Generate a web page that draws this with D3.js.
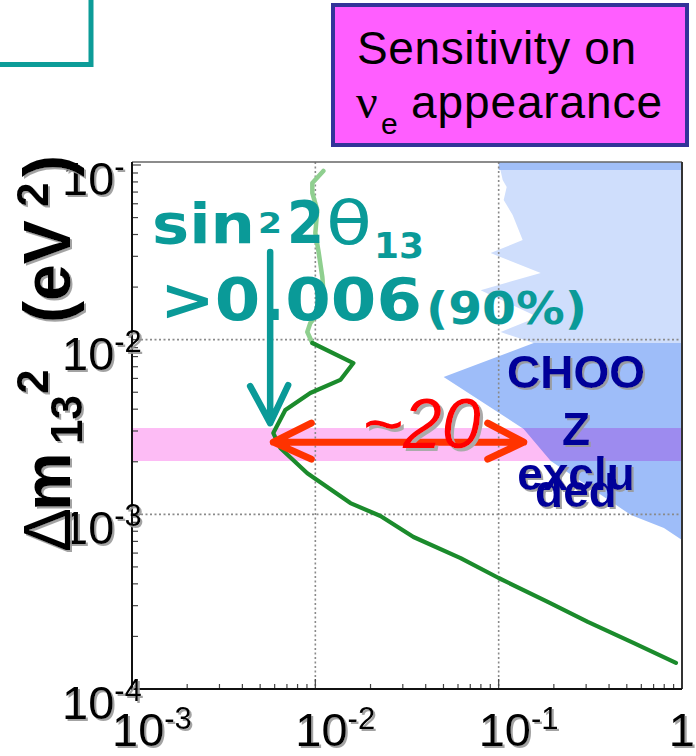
<!DOCTYPE html>
<html>
<head>
<meta charset="utf-8">
<title>Sensitivity on nu_e appearance</title>
<script src="https://d3js.org/d3.v7.min.js"></script>
<style>
  body { margin: 0; background: #fff; }
  svg { display: block; }
  .sans { font-family: "Liberation Sans", Arial, sans-serif; }
</style>
</head>
<body>
<svg id="main-svg" width="696" height="756"></svg>
<script>
// ---- data: x = sin^2 2theta13, y = dm^2 (eV^2) ----
// upper (light green) part of the sensitivity curve
const sensUpperSin = [0.01106, 0.00963, 0.00963, 0.01025, 0.0100, 0.01038, 0.01092, 0.01106, 0.01092, 0.00939, 0.00904, 0.00963];
const sensUpperDm  = [0.0924, 0.0789, 0.0691, 0.0552, 0.0408, 0.0326, 0.0228, 0.0192, 0.01522, 0.01246, 0.01106, 0.00957];
// lower (dark green) part
const sensLowerSin = [0.00963, 0.01613, 0.01369, 0.00939, 0.00686, 0.00590, 0.00644, 0.00904, 0.01553, 0.02266, 0.03431, 0.06199, 0.1, 0.1852, 0.3064, 0.5467, 0.927];
const sensLowerDm  = [0.00957, 0.00735, 0.00588, 0.00495, 0.00396, 0.00292, 0.00240, 0.00172, 0.00116, 0.000978, 0.000742, 0.000562, 0.000432, 0.000315, 0.000242, 0.000183, 0.000141];

// CHOOZ excluded region (light and dark blue parts, top strip)
const choozLightSin = [0.1, 0.1052, 0.1106, 0.1065, 0.1192, 0.1352, 0.0904, 0.1696, 0.0797, 0.1634, 0.1025, 0.1554, 1, 1];
const choozLightDm  = [0.104, 0.0821, 0.0748, 0.0630, 0.0517, 0.0372, 0.0313, 0.0241, 0.0192, 0.01348, 0.01106, 0.00957, 0.00957, 0.104];
const choozDarkSin  = [1, 0.1554, 0.0501, 0.1369, 0.1924, 0.5265, 0.797, 1];
const choozDarkDm   = [0.00957, 0.00957, 0.00611, 0.00308, 0.00202, 0.000991, 0.000835, 0.000713];
const choozTopSin   = [0.1, 1, 1, 0.1];
const choozTopDm    = [0.104, 0.104, 0.0936, 0.0936];

// allowed dm^2 band (pink)
const bandDm = [0.00202, 0.00312];

// annotations
const sensLimit = 0.0059, choozLimit = 0.137, arrowDm = 0.00259;   // red "~20" arrow
const tealArrowSin = 0.00567, tealArrowDm = [0.0318, 0.00333];

// axes
const xTickVals = [1e-3, 1e-2, 1e-1, 1];
const xTickSup  = ["-3", "-2", "-1", ""];
const yTickVals = [1e-4, 1e-3, 1e-2, 1e-1];
const yTickSup  = ["-4", "-3", "-2", "-"];
const gridX = [1e-2, 1e-1];
const gridY = [1e-3, 1e-2];

// ---- layout ----
const plot = { left: 132, right: 682, top: 162, bottom: 689 };
const svg = d3.select("#main-svg");

const xScale = d3.scaleLog().domain([1e-3, 1]).range([plot.left, plot.right]);
const yScale = d3.scaleLog().domain([1e-4, 1e-1]).range([plot.bottom, 165]);

const defs = svg.append("defs");
defs.append("filter").attr("id", "shadow")
    .attr("x", "-10%").attr("y", "-10%").attr("width", "130%").attr("height", "130%")
  .append("feDropShadow").attr("dx", 2).attr("dy", 2).attr("stdDeviation", 0.6)
    .attr("flood-color", "#999").attr("flood-opacity", 0.9);
defs.append("filter").attr("id", "shadow3")
    .attr("x", "-10%").attr("y", "-10%").attr("width", "130%").attr("height", "130%")
  .append("feDropShadow").attr("dx", 3).attr("dy", 3).attr("stdDeviation", 0.6)
    .attr("flood-color", "#aaa").attr("flood-opacity", 1);
defs.append("clipPath").attr("id", "plot-clip")
  .append("rect").attr("x", plot.left).attr("y", plot.top)
    .attr("width", plot.right - plot.left).attr("height", plot.bottom - plot.top);

// teal corner decoration
svg.append("path").attr("d", "M0,64.5 H91 V0")
   .attr("fill", "none").attr("stroke", "#0c9c98").attr("stroke-width", 5);

// title box
svg.append("rect").attr("x", 333).attr("y", 5).attr("width", 354).attr("height", 140)
   .attr("fill", "#ff5eff").attr("stroke", "#333399").attr("stroke-width", 4);
svg.append("text").attr("class", "sans").attr("x", 357).attr("y", 64)
   .attr("font-size", 46).attr("textLength", 279).text("Sensitivity on");
svg.append("text").attr("x", 356).attr("y", 118)
   .attr("font-family", "'Liberation Serif', serif").attr("font-size", 48).text("ν");
svg.append("text").attr("class", "sans").attr("x", 381).attr("y", 134)
   .attr("font-size", 30).text("e");
svg.append("text").attr("class", "sans").attr("x", 411).attr("y", 118)
   .attr("font-size", 46).attr("textLength", 251).text("appearance");

// ---- plot area ----
const area = svg.append("g").attr("clip-path", "url(#plot-clip)");
const poly = (xs, ys) => "M" + xs.map((v, i) => xScale(v) + "," + yScale(ys[i])).join("L") + "Z";

area.append("path").attr("d", poly(choozLightSin, choozLightDm)).attr("fill", "#cfdefc");
area.append("path").attr("d", poly(choozDarkSin, choozDarkDm)).attr("fill", "#9ebdf9");
area.append("path").attr("d", poly(choozTopSin, choozTopDm)).attr("fill", "#a1bff8");

area.append("rect")
    .attr("x", plot.left).attr("width", plot.right - plot.left)
    .attr("y", yScale(bandDm[1])).attr("height", yScale(bandDm[0]) - yScale(bandDm[1]))
    .attr("fill", "#fdbcf5").style("mix-blend-mode", "multiply");

// dotted grid
area.selectAll(".gx").data(gridX).join("line")
    .attr("x1", d => xScale(d)).attr("x2", d => xScale(d))
    .attr("y1", plot.top).attr("y2", plot.bottom)
    .attr("stroke", "#8a8a8a").attr("stroke-width", 1.6).attr("stroke-dasharray", "2,2.5");
area.selectAll(".gy").data(gridY).join("line")
    .attr("y1", d => yScale(d)).attr("y2", d => yScale(d))
    .attr("x1", plot.left).attr("x2", plot.right)
    .attr("stroke", "#8a8a8a").attr("stroke-width", 1.6).attr("stroke-dasharray", "2,2.5");

// ticks (inside the frame)
const isMajor = v => Math.abs(Math.log10(v) - Math.round(Math.log10(v))) < 1e-6;
svg.append("g").selectAll("line").data(xScale.ticks()).join("line")
    .attr("x1", d => xScale(d)).attr("x2", d => xScale(d))
    .attr("y1", plot.bottom).attr("y2", d => plot.bottom - (isMajor(d) ? 10 : 5))
    .attr("stroke", "#444").attr("stroke-width", 1.2);
svg.append("g").selectAll("line").data(yScale.ticks()).join("line")
    .attr("y1", d => yScale(d)).attr("y2", d => yScale(d))
    .attr("x1", plot.left).attr("x2", d => plot.left + (isMajor(d) ? 9 : 6))
    .attr("stroke", "#444").attr("stroke-width", 1.2);

// frame
svg.append("line").attr("x1", plot.left).attr("x2", plot.right).attr("y1", plot.top).attr("y2", plot.top)
   .attr("stroke", "#666").attr("stroke-width", 1.5);
svg.append("line").attr("x1", plot.right).attr("x2", plot.right).attr("y1", plot.top).attr("y2", plot.bottom)
   .attr("stroke", "#333").attr("stroke-width", 2);
svg.append("line").attr("x1", plot.left).attr("x2", plot.left).attr("y1", plot.top).attr("y2", plot.bottom + 1)
   .attr("stroke", "#111").attr("stroke-width", 2);
svg.append("line").attr("x1", plot.left).attr("x2", plot.right).attr("y1", plot.bottom).attr("y2", plot.bottom)
   .attr("stroke", "#111").attr("stroke-width", 2);

// sensitivity curve
const line = d3.line().x(d => xScale(d[0])).y(d => yScale(d[1]));
area.append("path").datum(d3.zip(sensUpperSin, sensUpperDm)).attr("d", line)
    .attr("fill", "none").attr("stroke", "#8fcf8f").attr("stroke-width", 4.5)
    .attr("stroke-linejoin", "round").attr("stroke-linecap", "round");
area.append("path").datum(d3.zip(sensLowerSin, sensLowerDm)).attr("d", line)
    .attr("fill", "none").attr("stroke", "#1b8b2c").attr("stroke-width", 4.2)
    .attr("stroke-linejoin", "round").attr("stroke-linecap", "round");

// teal annotation text
const teal = "#0a9a98";
const tg = svg.append("g").attr("fill", teal)
    .attr("font-family", "'DejaVu Sans', Verdana, sans-serif").attr("font-weight", "bold");
tg.append("text").attr("x", 152).attr("y", 243).attr("font-size", 56).attr("textLength", 103)
  .attr("lengthAdjust", "spacingAndGlyphs").text("sin");
tg.append("text").attr("x", 258).attr("y", 233).attr("font-size", 28).attr("textLength", 24)
  .attr("lengthAdjust", "spacingAndGlyphs").text("2");
tg.append("text").attr("x", 287).attr("y", 243).attr("font-size", 59).attr("textLength", 37)
  .attr("lengthAdjust", "spacingAndGlyphs").text("2");
tg.append("text").attr("x", 326).attr("y", 244).attr("font-size", 61).attr("font-weight", "normal")
  .attr("textLength", 46).attr("lengthAdjust", "spacingAndGlyphs").text("θ");
tg.append("text").attr("x", 374).attr("y", 258).attr("font-size", 36).attr("textLength", 50)
  .attr("lengthAdjust", "spacingAndGlyphs").text("13");
tg.append("text").attr("x", 160).attr("y", 320).attr("font-size", 58).attr("textLength", 262)
  .attr("lengthAdjust", "spacingAndGlyphs").text(">0.006");
tg.append("text").attr("x", 426).attr("y", 324).attr("font-size", 44).attr("textLength", 161)
  .attr("lengthAdjust", "spacingAndGlyphs").text("(90%)");

// teal arrow
const ta = { x: xScale(tealArrowSin), y0: yScale(tealArrowDm[0]), y1: yScale(tealArrowDm[1]) };
svg.append("path")
   .attr("d", `M${ta.x},${ta.y0}V${ta.y1} M${ta.x - 20},${ta.y1 - 37}L${ta.x},${ta.y1}L${ta.x + 18},${ta.y1 - 38}`)
   .attr("fill", "none").attr("stroke", teal).attr("stroke-width", 6.5)
   .attr("stroke-linecap", "round").attr("stroke-linejoin", "round");

// red double arrow
const ra = { x0: xScale(sensLimit), x1: xScale(choozLimit), y: yScale(arrowDm) };
svg.append("path")
   .attr("d", `M${ra.x0},${ra.y}H${ra.x1}` +
              ` M${ra.x0 + 38},${ra.y - 19}L${ra.x0},${ra.y}L${ra.x0 + 38},${ra.y + 17}` +
              ` M${ra.x1 - 36},${ra.y - 19}L${ra.x1},${ra.y}L${ra.x1 - 36},${ra.y + 17}`)
   .attr("fill", "none").attr("stroke", "#ff3300").attr("stroke-width", 7)
   .attr("stroke-linecap", "round").attr("stroke-linejoin", "round");
svg.append("text").attr("class", "sans").attr("x", 362).attr("y", 448)
   .attr("font-size", 70).attr("font-style", "italic").attr("fill", "#ff0000")
   .attr("filter", "url(#shadow3)").text("~20");

// CHOOZ label (lines overlap in the original slide)
const cg = svg.append("g").attr("class", "sans").attr("fill", "#000099").attr("font-weight", "bold")
    .attr("font-size", 46).attr("text-anchor", "middle").attr("filter", "url(#shadow)");
[["CHOO", 388], ["Z", 445], ["exclu", 490], ["ded", 507]].forEach(([t, y]) => {
  cg.append("text").attr("x", 576).attr("y", y).text(t);
});

// tick labels
const lab = svg.append("g").attr("class", "sans").attr("fill", "#000").attr("filter", "url(#shadow)");
xTickVals.forEach((v, i) => {
  const t = lab.append("text").attr("y", 746).attr("font-size", 47);
  if (xTickSup[i]) {
    t.attr("x", xScale(v) - 20).text("10");
    t.append("tspan").attr("dy", -17).attr("font-size", 31).text(xTickSup[i]);
  } else {
    t.attr("x", 695).attr("text-anchor", "end").text("1");
  }
});
yTickVals.forEach((v, i) => {
  const t = lab.append("text").attr("x", 62).attr("y", yScale(v) + 30).attr("font-size", 47).text("10");
  t.append("tspan").attr("dy", -18).attr("font-size", 31).text(yTickSup[i]);
});

// y axis title
const yl = svg.append("g").attr("filter", "url(#shadow)")
  .append("g").attr("class", "sans").attr("transform", "translate(70,552) rotate(-90)")
  .attr("font-weight", "bold").attr("fill", "#000");
[["Δ", 0, 0, 66, "normal"], ["m", 41, 0, 66], ["13", 108, 12, 44], ["2", 158, -22, 44],
 ["(eV", 229, 0, 66], ["2", 345, -22, 44], [")", 375, 0, 66]].forEach(([t, x, y, s, w]) => {
  yl.append("text").attr("x", x).attr("y", y).attr("font-size", s)
    .attr("font-weight", w || "bold").text(t);
});
</script>
</body>
</html>
